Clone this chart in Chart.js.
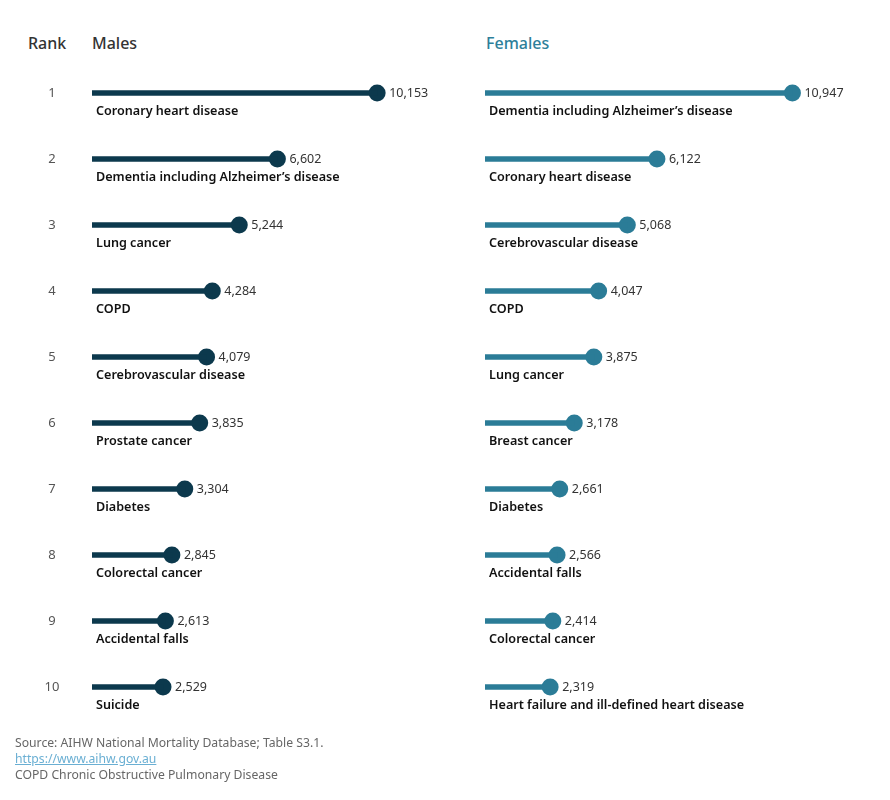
<!DOCTYPE html>
<html>
<head>
<meta charset="utf-8">
<script src="https://cdn.jsdelivr.net/npm/chart.js@4.4.1/dist/chart.umd.min.js"></script>
<style>
  body { margin: 0; background: #fff; font-family: "Noto Sans", sans-serif; }
  #wrap { position: relative; width: 890px; height: 800px; }
  .box { position: absolute; top: 0; width: 445px; height: 800px; }
  .head { position: absolute; top: 32px; font-size: 16px; font-weight: 500; }
  .foot { position: absolute; left: 15px; font-size: 12.2px; color: #666; }
  .foot a { color: #6aafd3; }
</style>
</head>
<body>
<div id="wrap">
  <div class="head" style="left:28px;color:#333;">Rank</div>
  <div class="head" style="left:92px;color:#333;">Males</div>
  <div class="head" style="left:486px;color:#2e7f9a;">Females</div>
  <div class="box" style="left:0"><canvas id="males"></canvas></div>
  <div class="box" style="left:445px"><canvas id="females"></canvas></div>
  <div class="foot" style="top:734px;">Source: AIHW National Mortality Database; Table S3.1.</div>
  <div class="foot" style="top:750px;"><a href="https://www.aihw.gov.au">https://www.aihw.gov.au</a></div>
  <div class="foot" style="top:766px;">COPD Chronic Obstructive Pulmonary Disease</div>
</div>
<script>
const ranks = [1, 2, 3, 4, 5, 6, 7, 8, 9, 10];
const malesCauses = ['Coronary heart disease', 'Dementia including Alzheimer’s disease', 'Lung cancer', 'COPD',
  'Cerebrovascular disease', 'Prostate cancer', 'Diabetes', 'Colorectal cancer', 'Accidental falls', 'Suicide'];
const malesDeaths = [10153, 6602, 5244, 4284, 4079, 3835, 3304, 2845, 2613, 2529];
const femalesCauses = ['Dementia including Alzheimer’s disease', 'Coronary heart disease', 'Cerebrovascular disease', 'COPD',
  'Lung cancer', 'Breast cancer', 'Diabetes', 'Accidental falls', 'Colorectal cancer', 'Heart failure and ill-defined heart disease'];
const femalesDeaths = [10947, 6122, 5068, 4047, 3875, 3178, 2661, 2566, 2414, 2319];

const FONT = '"Noto Sans", sans-serif';

// draws value next to dot, cause name under the bar, and optionally the rank column
const labelPlugin = {
    id: 'labels',
    afterDatasetsDraw(chart, args, opts) {
        const ctx = chart.ctx;
        const xs = chart.scales.x;
        const ys = chart.scales.y;
        const vals = chart.data.datasets[0].data;
        ctx.save();
        ctx.textBaseline = 'middle';
        vals.forEach((v, i) => {
            const y = ys.getPixelForValue(i);
            const x = xs.getPixelForValue(v);
            ctx.font = '12.5px ' + FONT;
            ctx.fillStyle = '#333';
            ctx.textAlign = 'left';
            ctx.fillText(v.toLocaleString('en-US'), x + 12, y);
            ctx.font = '600 12.6px ' + FONT;
            ctx.fillStyle = '#111';
            ctx.fillText(chart.data.labels[i], xs.getPixelForValue(0) + 4, y + 18);
            if (opts.showRank) {
                ctx.font = '13px ' + FONT;
                ctx.fillStyle = '#555';
                ctx.textAlign = 'center';
                ctx.fillText(String(ranks[i]), 52, y);
            }
        });
        ctx.restore();
    }
};

function makeChart(id, causes, deaths, color, padLeft, padRight, showRank) {
    const ctx = document.getElementById(id).getContext('2d');
    return new Chart(ctx, {
        type: 'bar',
        data: {
            labels: causes,
            datasets: [{
                data: deaths,
                backgroundColor: color,
                barThickness: 5,
                borderWidth: 0
            }, {
                type: 'line',
                indexAxis: 'y',
                data: deaths,
                showLine: false,
                pointRadius: 8.5,
                pointHoverRadius: 8.5,
                pointBackgroundColor: color,
                pointBorderWidth: 0
            }]
        },
        options: {
            indexAxis: 'y',
            responsive: true,
            maintainAspectRatio: false,
            animation: false,
            layout: { padding: { left: padLeft, right: padRight, top: 60, bottom: 80 } },
            scales: {
                x: { min: 0, max: 12000, display: false },
                y: { display: false, offset: true }
            },
            plugins: {
                legend: { display: false },
                tooltip: { enabled: false },
                labels: { showRank: showRank }
            }
        },
        plugins: [labelPlugin]
    });
}

document.addEventListener('DOMContentLoaded', function() {
    makeChart('males', malesCauses, malesDeaths, '#0c394d', 92, 16, true);
    makeChart('females', femalesCauses, femalesDeaths, '#2b7c97', 40, 68, false);
});
</script>
</body>
</html>
